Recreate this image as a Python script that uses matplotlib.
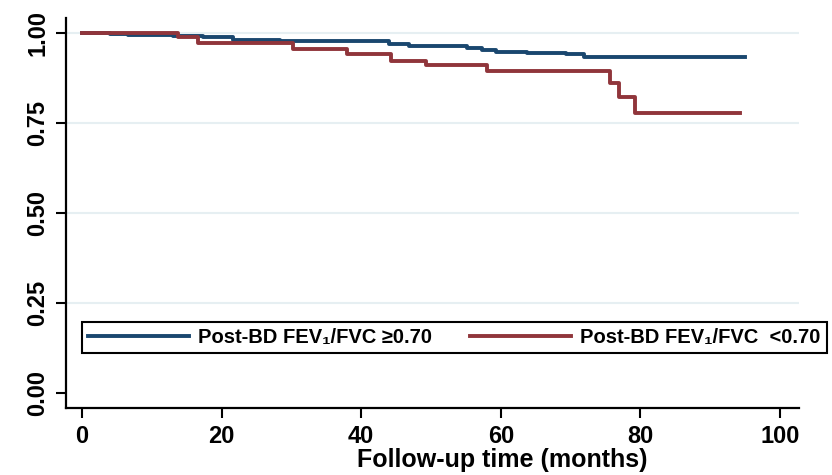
import matplotlib
matplotlib.use('Agg')
import matplotlib.pyplot as plt

# Kaplan-Meier krivulji (odčitano s slike)
t_normal = [0, 4, 6.6, 13, 17.3, 21.6, 28.3, 44, 46.9, 55.1, 57.3, 59.3, 63.7, 69.4, 71.9, 95]
s_normal = [1.0, 0.998, 0.995, 0.992, 0.988, 0.982, 0.977, 0.970, 0.965, 0.958, 0.953,
            0.948, 0.945, 0.942, 0.934, 0.934]

t_obstr = [0, 13.7, 16.6, 30.2, 37.9, 44.3, 49.3, 58, 75.7, 76.9, 79.3, 94.3]
s_obstr = [1.0, 0.989, 0.972, 0.956, 0.942, 0.922, 0.911, 0.895, 0.861, 0.823, 0.779, 0.779]

labels = ['Post-BD FEV\u2081/FVC \u22650.70', 'Post-BD FEV\u2081/FVC  <0.70']
x_ticks = [0, 20, 40, 60, 80, 100]
y_ticks = [0.0, 0.25, 0.5, 0.75, 1.0]
y_tick_labels = ['0.00', '0.25', '0.50', '0.75', '1.00']

BLUE = '#1a476f'
RED = '#90353b'

plt.rcParams['font.family'] = ['Liberation Sans', 'DejaVu Sans']
plt.rcParams['font.weight'] = 'bold'

fig = plt.figure(figsize=(8.32, 4.75), dpi=100)
ax = fig.add_axes([0.079, 0.141, 0.881, 0.821])

# mreža samo pri 0.25 .. 1.00
for y in y_ticks[1:]:
    ax.axhline(y, color='#e6eff2', lw=1.5, zorder=0)

ax.step(t_normal, s_normal, where='post', color=BLUE, lw=2.8, label=labels[0])
ax.step(t_obstr, s_obstr, where='post', color=RED, lw=2.8, label=labels[1])

ax.set_xlim(-2.34, 102.7)
ax.set_ylim(-0.042, 1.042)
ax.set_xticks(x_ticks)
ax.set_yticks(y_ticks)
ax.set_yticklabels(y_tick_labels, rotation=90, va='center')
ax.tick_params(axis='both', direction='out', length=7, width=1.5, labelsize=17, pad=5)

for side in ['top', 'right']:
    ax.spines[side].set_visible(False)
for side in ['left', 'bottom']:
    ax.spines[side].set_linewidth(1.6)

# naslov osi x je na originalu zamaknjen v desno
ax.set_xlabel('Follow-up time (months)', fontsize=18, fontweight='bold', labelpad=0,
              x=0.595, ha='center')

leg = ax.legend(loc='lower left', bbox_to_anchor=(0.022, 0.141, 1.016, 0.103), mode='expand',
                ncol=2, fontsize=14.5, handlelength=5.0, handletextpad=0.45,
                fancybox=False, framealpha=1, edgecolor='black', borderpad=0.3,
                borderaxespad=0)
leg.get_frame().set_linewidth(1.5)

plt.savefig('out.png', dpi=100)
